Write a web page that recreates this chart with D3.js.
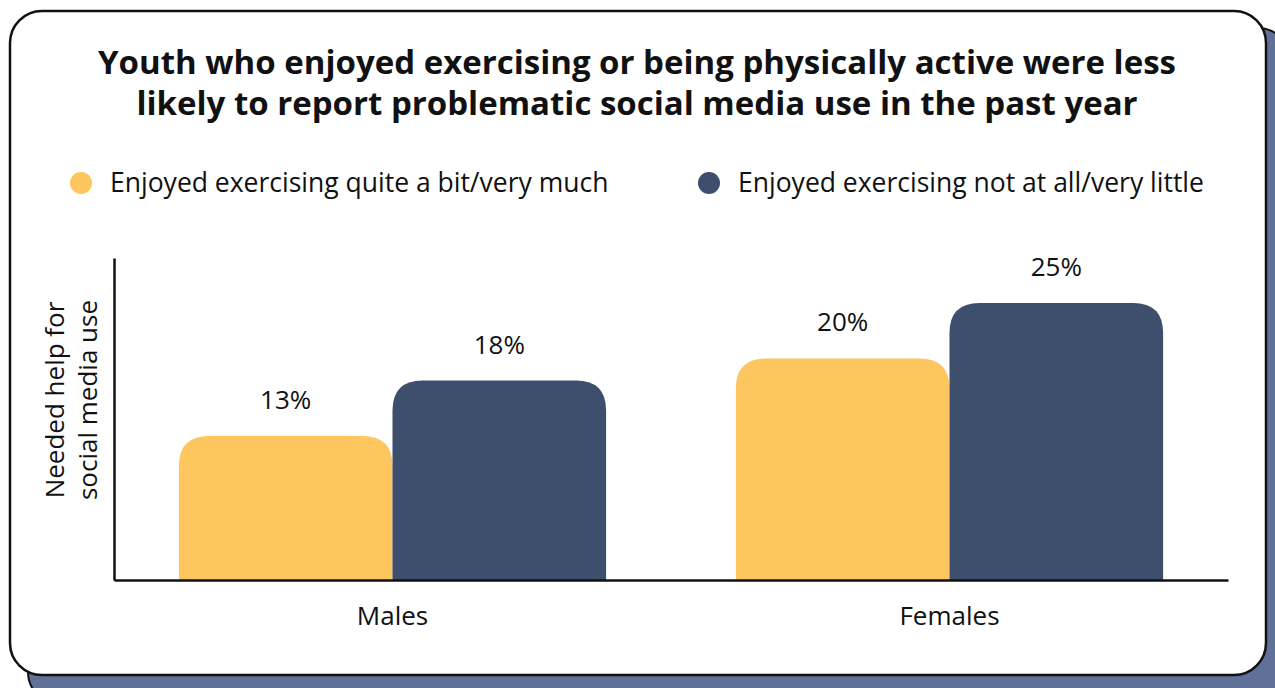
<!DOCTYPE html>
<html>
<head>
<meta charset="utf-8">
<script src="https://cdn.jsdelivr.net/npm/d3@7/dist/d3.min.js"></script>
<style>
  html, body { margin: 0; padding: 0; background: #ffffff; }
  svg { display: block; font-family: "Open Sans", "Noto Sans", sans-serif; }
</style>
</head>
<body>
<svg id="chart" width="1275" height="688"></svg>
<script>
// Data
const groups = ["Males", "Females"];
const seriesNames = ["Enjoyed exercising quite a bit/very much", "Enjoyed exercising not at all/very little"];
const enjoyedMuch = [13, 20];
const enjoyedLittle = [18, 25];
const seriesColors = ["#fdc65e", "#3d4f6d"];
const titleLines = [
  "Youth who enjoyed exercising or being physically active were less",
  "likely to report problematic social media use in the past year"
];
const yLabelLines = ["Needed help for", "social media use"];

const svg = d3.select("#chart");
const fs = 26;

// Card with offset shadow
svg.append("rect")
  .attr("x", 28).attr("y", 28).attr("width", 1262).attr("height", 676)
  .attr("rx", 32).attr("fill", "#5f7199").attr("stroke", "#111").attr("stroke-width", 2);
svg.append("rect")
  .attr("x", 10).attr("y", 11).attr("width", 1256).attr("height", 664)
  .attr("rx", 32).attr("fill", "#ffffff").attr("stroke", "#111").attr("stroke-width", 2.5);

// Title
svg.append("g").selectAll("text").data(titleLines).join("text")
  .attr("x", 637).attr("y", (d, i) => 74 + i * 41)
  .attr("text-anchor", "middle")
  .attr("font-size", 33).attr("font-weight", 700).attr("fill", "#111")
  .text(d => d);

// Legend
const legendX = [81, 709];
const legend = svg.append("g").selectAll("g").data(seriesNames).join("g")
  .attr("transform", (d, i) => `translate(${legendX[i]},183)`);
legend.append("circle").attr("r", 11).attr("fill", (d, i) => seriesColors[i]);
legend.append("text").attr("x", 29).attr("dy", "0.35em")
  .attr("font-size", 26.5).attr("fill", "#111").text(d => d);

// Scales
const margin = { left: 114, right: 1228, top: 258, bottom: 580 };
const x0 = d3.scaleBand().domain(groups).range([margin.left, margin.right]).paddingInner(0.233).paddingOuter(0.1165);
const x1 = d3.scaleBand().domain([0, 1]).range([0, x0.bandwidth()]);
const y = d3.scaleLinear().domain([0, 29.06]).range([margin.bottom, margin.top]);

const rows = groups.map((g, i) => ({ group: g, values: [enjoyedMuch[i], enjoyedLittle[i]] }));

// Bars with rounded top corners
function topRounded(x, yTop, w, h, r) {
  r = Math.min(r, w / 2, h);
  return `M${x},${yTop + h}V${yTop + r}Q${x},${yTop} ${x + r},${yTop}H${x + w - r}Q${x + w},${yTop} ${x + w},${yTop + r}V${yTop + h}Z`;
}

const gGroups = svg.append("g").selectAll("g").data(rows).join("g")
  .attr("transform", d => `translate(${x0(d.group)},0)`);

gGroups.selectAll("path").data(d => d.values.map((v, i) => ({ v, i }))).join("path")
  .attr("d", d => topRounded(x1(d.i), y(d.v), x1.bandwidth(), y(0) - y(d.v), 30))
  .attr("fill", d => seriesColors[d.i]);

gGroups.selectAll("text").data(d => d.values.map((v, i) => ({ v, i }))).join("text")
  .attr("x", d => x1(d.i) + x1.bandwidth() / 2)
  .attr("y", d => y(d.v) - 27)
  .attr("text-anchor", "middle").attr("font-size", fs).attr("fill", "#111")
  .text(d => d.v + "%");

// Axes
const xAxis = svg.append("g").attr("transform", `translate(0,${margin.bottom})`)
  .call(d3.axisBottom(x0).tickSize(0).tickPadding(27));
xAxis.select(".domain").attr("stroke", "#111").attr("stroke-width", 2.5);
xAxis.selectAll("text").attr("font-size", fs).attr("fill", "#111").attr("font-family", "Open Sans, Noto Sans, sans-serif");

const yAxis = svg.append("g").attr("transform", `translate(${margin.left},0)`)
  .call(d3.axisLeft(y).tickValues([]).tickSize(0));
yAxis.select(".domain").attr("stroke", "#111").attr("stroke-width", 2.5);

// Y axis title
svg.append("text")
  .attr("transform", "translate(0,400) rotate(-90)")
  .attr("text-anchor", "middle").attr("font-size", fs).attr("fill", "#111")
  .selectAll("tspan").data(yLabelLines).join("tspan")
  .attr("x", 0).attr("y", (d, i) => 64 + i * 33)
  .text(d => d);
</script>
</body>
</html>
